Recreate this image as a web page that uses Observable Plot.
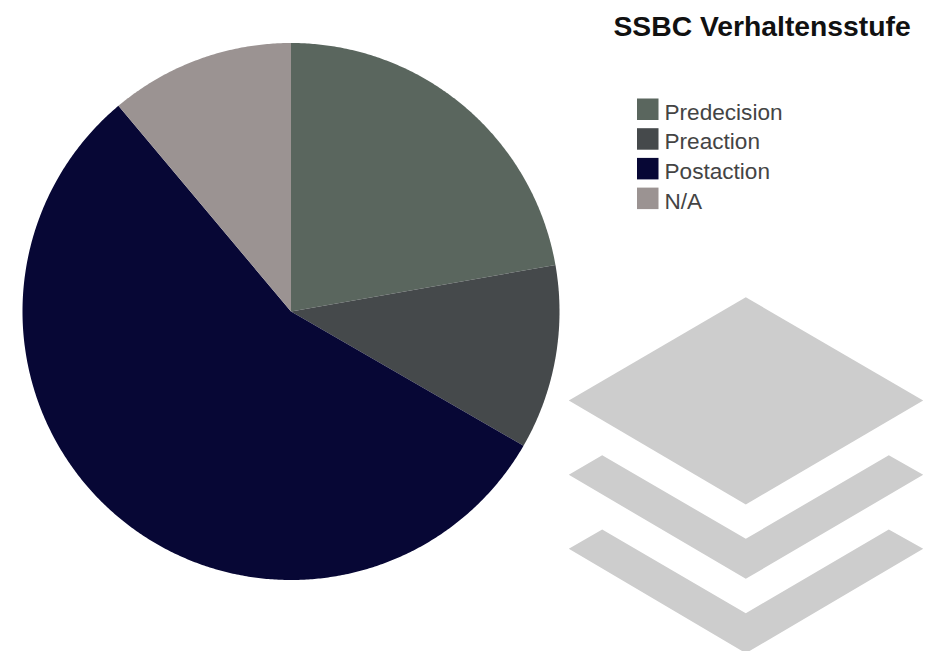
<!DOCTYPE html>
<html><head><meta charset="utf-8">
<style>html,body{margin:0;padding:0;background:#fff;overflow:hidden}svg{display:block}</style>
<script src="https://cdn.jsdelivr.net/npm/d3@7"></script>
<script src="https://cdn.jsdelivr.net/npm/@observablehq/plot@0.6"></script>
</head><body><div id="chart"></div>
<script>
const title = "SSBC Verhaltensstufe";
const categories = ["Predecision", "Preaction", "Postaction", "N/A"];
const shares = [2, 1, 5, 1];
const colours = ["#5a665e", "#45494b", "#070735", "#9b9392"];

// Layout, in page pixels
const W = 925, H = 651;
const cx = 291, cy = 311.5, r = 268.5;
const swatchX = 637, swatchSize = 21.5, legendTop = 98.5, legendStep = 29.7, labelX = 664;

const pieData = d3.pie().sort(null)(shares);
const wedgePoints = pieData.flatMap((s, i) => {
  const n = Math.max(2, Math.ceil((s.endAngle - s.startAngle) * r / 2));
  return d3.range(n + 1).map(k => {
    const a = s.startAngle + (s.endAngle - s.startAngle) * k / n;
    return {cat: categories[i], x: cx + r * Math.sin(a), y: cy - r * Math.cos(a)};
  });
});

const legendRows = categories.map((c, i) => ({
  cat: c,
  x1: swatchX, x2: swatchX + swatchSize,
  y1: legendTop + i * legendStep, y2: legendTop + i * legendStep + swatchSize
}));

// Decorative stacked-layers icon
const iconShapes = [
  [[745.3,296.7],[922.7,400],[745.3,504],[568.3,400]],
  [[568.3,474.3],[601.7,454.7],[745.3,538.3],[888.3,454.7],[922.7,474.3],[745.3,578.3]],
  [[568.3,548.3],[601.7,529],[745.3,612.7],[888.3,529],[922.7,548.3],[745.3,652.7]]
];
const iconPoints = iconShapes.flatMap((p, i) => [...p, p[0]].map(([x, y]) => ({x, y, shape: i})));

const chart = Plot.plot({
  width: W, height: H,
  margin: 0,
  style: {background: "#fff", fontFamily: "'Liberation Sans', Arial, sans-serif"},
  x: {type: "linear", domain: [0, W], range: [0, W], axis: null},
  y: {type: "linear", domain: [0, H], range: [0, H], axis: null},
  color: {type: "ordinal", domain: categories, range: colours},
  marks: [
    Plot.line(iconPoints, {x: "x", y: "y", z: "shape", fill: "#cdcdcd", stroke: "none", curve: "linear"}),
    Plot.area(wedgePoints, {
      x1: () => cx, y1: () => cy, x2: "x", y2: "y",
      z: "cat", fill: "cat", curve: "linear"
    }),
    Plot.rect(legendRows, {x1: "x1", x2: "x2", y1: "y1", y2: "y2", fill: "cat"}),
    Plot.text(legendRows, {
      x: () => labelX, y: d => d.y2 - 1, text: "cat",
      textAnchor: "start", lineAnchor: "bottom",
      fontSize: 22.6, fill: "#444"
    }),
    Plot.text([title], {
      x: () => 613, y: () => 35, text: d => d,
      textAnchor: "start", lineAnchor: "bottom",
      fontSize: 28.3, fontWeight: "bold", fill: "#111"
    })
  ]
});
document.getElementById("chart").append(chart);
</script></body></html>
